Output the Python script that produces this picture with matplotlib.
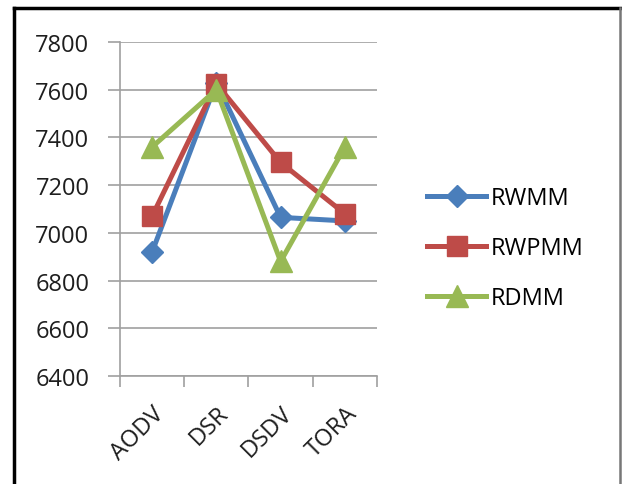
import matplotlib
matplotlib.use("Agg")
import matplotlib.pyplot as plt
from matplotlib.lines import Line2D

categories = ["AODV", "DSR", "DSDV", "TORA"]
rwmm = [6920, 7630, 7065, 7050]
rwpmm = [7070, 7625, 7295, 7080]
rdmm = [7360, 7600, 6880, 7360]
y_ticks = [6400, 6600, 6800, 7000, 7200, 7400, 7600, 7800]

plt.rcParams["font.family"] = ["Open Sans", "DejaVu Sans"]

fig = plt.figure(figsize=(6.22, 4.85), dpi=100)
ax = fig.add_axes([120 / 622, 1 - 377 / 485, 257 / 622, 334 / 485])

x = list(range(len(categories)))
ax.plot(x, rwmm, color="#4A7EBB", lw=3.6, marker="D", markersize=11, label="RWMM")
ax.plot(x, rwpmm, color="#BE4B48", lw=3.6, marker="s", markersize=14, label="RWPMM")
ax.plot(x, rdmm, color="#98B954", lw=3.6, marker="^", markersize=16, label="RDMM")

ax.set_xlim(-0.5, len(categories) - 0.5)
ax.set_ylim(y_ticks[0], y_ticks[-1])
ax.set_yticks(y_ticks)
ax.set_yticklabels([str(v) for v in y_ticks], fontsize=17, color="#1E1E1E")
ax.yaxis.grid(True, color="#A0A0A0", lw=1.2)
ax.set_axisbelow(True)

ax.set_xticks(x)
ax.set_xticklabels(categories, rotation=45, ha="right", rotation_mode="anchor",
                   fontsize=17, color="#1E1E1E")
ax.set_xticks([i - 0.5 for i in range(len(categories) + 1)], minor=True)
ax.tick_params(axis="x", which="major", length=0, pad=18)
ax.tick_params(axis="x", which="minor", length=8, color="#A0A0A0", width=1.2)
ax.tick_params(axis="y", length=9, color="#A0A0A0", width=1.2, pad=13)

for side in ("top", "right"):
    ax.spines[side].set_visible(False)
for side in ("left", "bottom"):
    ax.spines[side].set_color("#A0A0A0")
    ax.spines[side].set_linewidth(1.2)

ax.legend(loc="center left", bbox_to_anchor=(418 / 622, 1 - 249 / 485),
          bbox_transform=fig.transFigure, frameon=False, fontsize=17,
          handlelength=2.5, labelspacing=1.1, handletextpad=0.2, borderaxespad=0)

# outer frame
fig.add_artist(Line2D([14 / 622, 14 / 622], [0, 1 - 9 / 485], transform=fig.transFigure,
                      color="black", lw=2.5))
fig.add_artist(Line2D([14 / 622, 620 / 622], [1 - 9 / 485, 1 - 9 / 485], transform=fig.transFigure,
                      color="black", lw=2.5))
fig.add_artist(Line2D([620 / 622, 620 / 622], [0, 1 - 9 / 485], transform=fig.transFigure,
                      color="#777777", lw=1.8))

fig.savefig("out.png", dpi=100)
